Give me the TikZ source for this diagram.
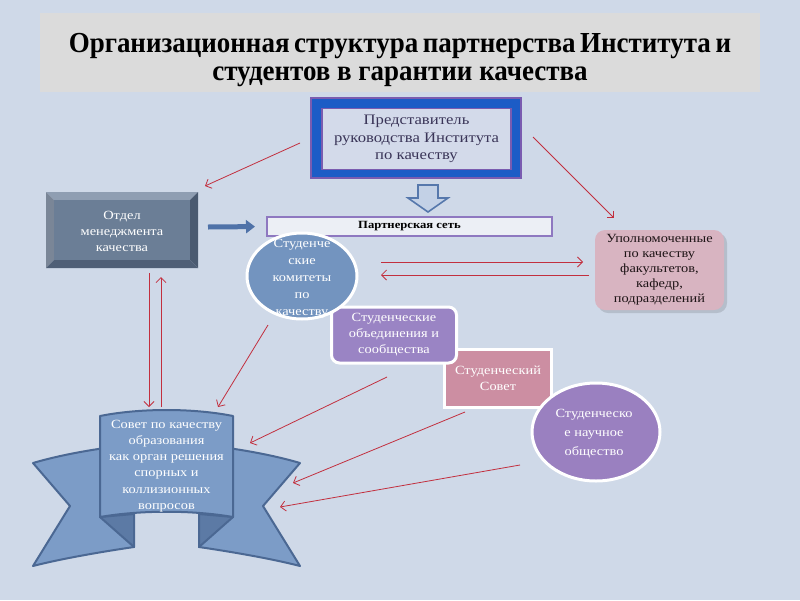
\documentclass[tikz,border=0pt]{standalone}
\usepackage{fontspec}
\setmainfont{Liberation Serif}[FakeStretch=1.15]
\newfontfamily\titlefont{Liberation Serif}[FakeStretch=0.93]
\usetikzlibrary{arrows.meta,shapes.geometric}
\definecolor{bg}{HTML}{CFD9E8}
\definecolor{titlegray}{HTML}{DBDBDB}
\definecolor{edgepurple}{HTML}{7A5CB0}
\definecolor{bandblue}{HTML}{1C5CC6}
\definecolor{innerfill}{HTML}{D3DAEA}
\definecolor{reptext}{HTML}{3A3558}
\definecolor{arrblue}{HTML}{5678AC}
\definecolor{arrfill}{HTML}{C3D1E6}
\definecolor{barpurple}{HTML}{8E78C0}
\definecolor{barfill}{HTML}{ECEFF5}
\definecolor{stone}{HTML}{6B7E96}
\definecolor{stonelight}{HTML}{8F9EB2}
\definecolor{stonedark}{HTML}{4A5A70}
\definecolor{thickblue}{HTML}{4F72A8}
\definecolor{circblue}{HTML}{7394BF}
\definecolor{redarrow}{HTML}{C22F3E}
\definecolor{pinkbox}{HTML}{D8B4C1}
\definecolor{pinktext}{HTML}{1E1416}
\definecolor{obedfill}{HTML}{9A84C4}
\definecolor{councilfill}{HTML}{CC8EA2}
\definecolor{socfill}{HTML}{9A80C0}
\definecolor{ribbonfill}{HTML}{7C9CC7}
\definecolor{ribbonedge}{HTML}{4B6893}
\definecolor{ribbonfold}{HTML}{5C7AA5}
\tikzset{
  redarr/.style={draw=redarrow, line width=0.8pt, -{Straight Barb[length=5pt,width=10pt]}},
  whitetext/.style={text=white, align=center, font=\fontsize{12.5}{16}\selectfont},
}
\begin{document}
\begin{tikzpicture}[x=1pt,y=-1pt]
\useasboundingbox (0,0) rectangle (800,600);
\fill[bg] (0,0) rectangle (800,600);

% title
\fill[titlegray] (40,13) rectangle (760,92);
\node[font=\titlefont\fontsize{29}{28}\selectfont\bfseries, align=center] (title) at (400,60)
  {\spaceskip=0.16em\relax Организационная структура партнерства Института и\\
   студентов в гарантии качества};

% representative
\node[draw=edgepurple, line width=2pt, fill=bandblue, minimum width=210pt, minimum height=80pt] (repout) at (416,138) {};
\node[draw=edgepurple, line width=1.6pt, fill=innerfill, minimum width=189pt, minimum height=61pt,
      align=center, text=reptext, font=\fontsize{14.5}{17.5}\selectfont] (rep) at (416.5,139) {Представитель\\руководства Института\\по качеству};

% down block arrow
\draw[draw=arrblue, fill=arrfill, line width=1.6pt, line join=miter]
  (418,185) -- (438,185) -- (438,198) -- (448,198) -- (428,212) -- (408,198) -- (418,198) -- cycle;

% partner bar
\node[draw=barpurple, line width=2pt, fill=barfill, minimum width=285pt, minimum height=19pt,
      font=\bfseries\fontsize{11}{12}\selectfont] (net) at (409.5,226.5) {Партнерская сеть};

% otdel bevel box
\fill[stonelight] (46,192) -- (198,192) -- (190,200) -- (54,200) -- cycle;
\fill[stonelight!85!black] (46,192) -- (54,200) -- (54,260) -- (46,268) -- cycle;
\fill[stonedark] (198,192) -- (198,268) -- (190,260) -- (190,200) -- cycle;
\fill[stonedark!85!stone] (46,268) -- (198,268) -- (190,260) -- (54,260) -- cycle;
\fill[stone] (54,200) rectangle (190,260);
\node[whitetext, minimum width=152pt, minimum height=76pt] (otdel) at (122,231) {Отдел\\менеджмента\\качества};

% thick blue arrow
\coordinate (oa) at (208,227);
\draw[draw=thickblue, line width=5pt, -{Triangle[length=9pt,width=13pt]}, shorten >=11pt] (oa) -- (net.west);

% red horizontal arrows
\coordinate (h1s) at (381,262); \coordinate (h1e) at (583,262);
\coordinate (h2s) at (589,275); \coordinate (h2e) at (381,275);
\draw[redarr] (h1s) -- (h1e);
\draw[redarr] (h2s) -- (h2e);

% upolnomochennye
\fill[black, opacity=0.12, rounded corners=10pt] (598,233) rectangle (727,313);
\node[rounded corners=10pt, fill=pinkbox, minimum width=129pt, minimum height=80pt, align=center,
      text=pinktext, font=\fontsize{12.5}{15}\selectfont] (upol) at (659.5,270)
  {Уполномоченные\\по качеству\\факультетов,\\кафедр,\\подразделений};

% student council
\node[draw=white, line width=3pt, fill=councilfill, minimum width=107pt, minimum height=58pt, whitetext] (sovet) at (498,378.5) {Студенческий\\Совет};

% student associations
\node[rounded corners=8pt, draw=white, line width=3pt, fill=obedfill, minimum width=125pt, minimum height=56pt, whitetext] (obed) at (394,335) {Студенческие\\объединения и\\сообщества};

% committees circle
\node[ellipse, draw=white, line width=3pt, fill=circblue, minimum width=110pt, minimum height=86pt] (kom) at (302,276) {};
\node[whitetext, font=\fontsize{12.5}{17}\selectfont] (komtext) at (302,279) {Студенче\\ские\\комитеты\\по\\качеству};

% scientific society
\node[ellipse, draw=white, line width=3pt, fill=socfill, minimum width=128pt, minimum height=98pt] (soc) at (596,432) {};
\node[whitetext, font=\fontsize{12.5}{19}\selectfont] (soctext) at (594,434) {Студенческо\\е научное\\общество};

% ribbon
\begin{scope}[draw=ribbonedge, line width=2pt, line join=round]
\filldraw[fill=ribbonfill] (33,463) .. controls (60,455) and (90,450) .. (112,447) -- (134,547)
   .. controls (100,552) and (60,559) .. (33,566) -- (70,506) -- cycle;
\filldraw[fill=ribbonfill] (300,463) .. controls (273,455) and (243,450) .. (221,447) -- (199,547)
   .. controls (233,552) and (273,559) .. (300,566) -- (263,506) -- cycle;
\filldraw[fill=ribbonfold] (100,517) -- (134,547) -- (134,514) -- cycle;
\filldraw[fill=ribbonfold] (233,517) -- (199,547) -- (199,514) -- cycle;
\filldraw[fill=ribbonfill] (100,416) .. controls (140,408) and (193,408) .. (233,416) -- (233,517)
   .. controls (193,510) and (140,510) .. (100,517) -- cycle;
\end{scope}
\node[whitetext, font=\fontsize{12.5}{16.2}\selectfont] (sovetq) at (166.5,466)
  {Совет по качеству\\образования\\как орган решения\\спорных и\\коллизионных\\вопросов};

% red arrows
\coordinate (a1s) at (300,143); \coordinate (a1e) at (205,186);
\coordinate (a2s) at (533,137); \coordinate (a2e) at (614,218);
\coordinate (v1s) at (149,273); \coordinate (v1e) at (149,407);
\coordinate (v2s) at (161,407); \coordinate (v2e) at (161,277);
\coordinate (a4s) at (268,325); \coordinate (a4e) at (218,407);
\coordinate (a5s) at (387,377); \coordinate (a5e) at (250,443);
\coordinate (a6s) at (465,412); \coordinate (a6e) at (293,483);
\coordinate (a7s) at (520,465); \coordinate (a7e) at (280,507);
\draw[redarr] (a1s) -- (a1e);
\draw[redarr] (a2s) -- (a2e);
\draw[redarr] (v1s) -- (v1e);
\draw[redarr] (v2s) -- (v2e);
\draw[redarr] (a4s) -- (a4e);
\draw[redarr] (a5s) -- (a5e);
\draw[redarr] (a6s) -- (a6e);
\draw[redarr] (a7s) -- (a7e);
\end{tikzpicture}
\end{document}
